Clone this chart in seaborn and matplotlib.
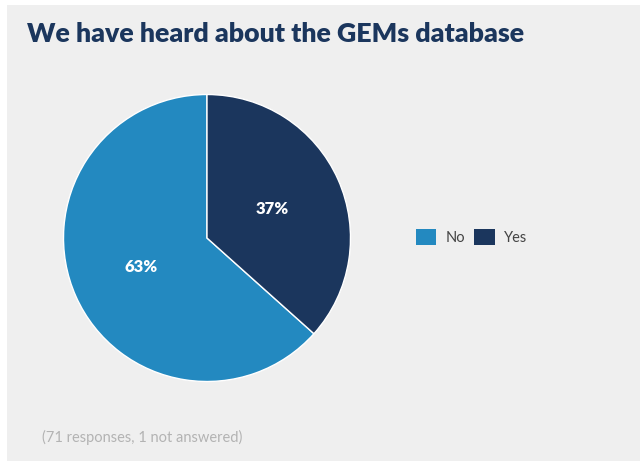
import matplotlib
matplotlib.use("Agg")
import matplotlib.pyplot as plt
from matplotlib.patches import Rectangle, Patch
import seaborn as sns

# Survey answers (counts), percentages shown on the wedges
categories = ["No", "Yes"]
counts = [45, 26]
title = "We have heard about the GEMs database"
footer = "(71 responses, 1 not answered)"

sns.set_theme(style="white")
plt.rcParams["font.family"] = ["Lato", "DejaVu Sans"]

palette = ["#2389c0", "#1b365d"]
W, H = 640, 461
fig = plt.figure(figsize=(W / 100, H / 100), dpi=100, facecolor="white")

# light grey card behind the chart
fig.patches.append(Rectangle((7 / W, 0), 1, 1 - 5 / H, transform=fig.transFigure,
                             facecolor="#efefef", edgecolor="none", zorder=-10))

fig.text(27 / W, 1 - 34 / H, title, fontsize=19.3, fontweight="heavy",
         color="#1b365d", va="center", ha="left")

cx, cy, r = 207, 238, 143.5
ax = fig.add_axes([(cx - r) / W, (H - cy - r) / H, 2 * r / W, 2 * r / H])
ax.set_zorder(5)
wedges, texts, autotexts = ax.pie(
    counts, colors=palette, startangle=90, counterclock=True,
    autopct=lambda p: f"{p:.0f}%", pctdistance=0.5,
    wedgeprops=dict(edgecolor="white", linewidth=1.0),
    textprops=dict(color="white", fontsize=12, fontweight="heavy"))
ax.set_xlim(-1, 1)
ax.set_ylim(-1, 1)
ax.set_aspect("equal")
ax.axis("off")

handles = [Patch(facecolor=c, edgecolor="none") for c in palette]
leg = fig.legend(handles, categories, loc="center left",
                 bbox_to_anchor=(416 / W, 1 - 237 / H), ncol=2, frameon=False,
                 fontsize=10.5, labelcolor="#444444", borderpad=0, borderaxespad=0,
                 handlelength=1.4, handleheight=1.25, handletextpad=0.65,
                 columnspacing=0.6)

fig.text(42 / W, 1 - 437 / H, footer, fontsize=10.5, color="#b3b3b3",
         va="center", ha="left")

fig.savefig("out.png", dpi=100, facecolor=fig.get_facecolor())
